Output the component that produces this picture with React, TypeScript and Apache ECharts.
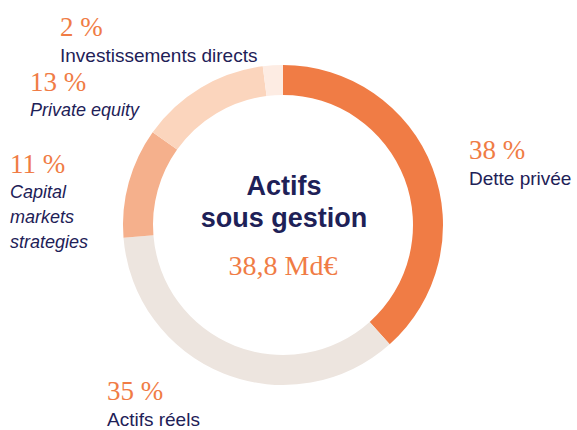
import React, { useEffect, useRef } from "react";
import * as echarts from "echarts";

const categories = ["Dette privée", "Actifs réels", "Capital markets strategies", "Private equity", "Investissements directs"];
const values = [38, 35, 11, 13, 2];
const colors = ["#F07C45", "#EDE5DF", "#F5B08C", "#FBD5BD", "#FDECE3"];
const labelLines = [["Dette privée"], ["Actifs réels"], ["Capital", "markets", "strategies"], ["Private equity"], ["Investissements directs"]];
const italic = [false, false, true, true, false];
const centerTitle = ["Actifs", "sous gestion"];
const centerValue = "38,8 Md€";

const ORANGE = "#F07C45";
const NAVY = "#1E2157";
const SERIF = "'Liberation Serif', serif";
const SANS = "'Liberation Sans', Arial, sans-serif";

// label anchor positions (x, y of percentage line) per category
const anchors: [number, number][] = [
  [469, 150],
  [107, 391],
  [10, 164],
  [30, 82],
  [60, 27],
];

export default function App() {
  const ref = useRef<HTMLDivElement>(null);
  useEffect(() => {
    const chart = echarts.init(ref.current!, undefined, { renderer: "svg" });
    const graphics: any[] = [];
    categories.forEach((c, i) => {
      const [x, y] = anchors[i];
      graphics.push({
        type: "text",
        x,
        y,
        style: {
          text: `${values[i]} %`,
          font: `normal 27px ${SERIF}`,
          fill: ORANGE,
          verticalAlign: "middle",
          align: "left",
        },
      });
      labelLines[i].forEach((line, j) => {
        graphics.push({
          type: "text",
          x,
          y: y + 28 + j * 25,
          style: {
            text: line,
            font: `${italic[i] ? "italic 18px" : "normal 19px"} ${SANS}`,
            fill: NAVY,
            verticalAlign: "middle",
            align: "left",
          },
        });
      });
    });
    centerTitle.forEach((t, j) => {
      graphics.push({
        type: "text",
        x: 284,
        y: 186 + j * 32,
        style: {
          text: t,
          font: `bold 27px ${SANS}`,
          fill: NAVY,
          verticalAlign: "middle",
          align: "center",
        },
      });
    });
    graphics.push({
      type: "text",
      x: 283,
      y: 265,
      style: {
        text: centerValue,
        font: `normal 28px ${SERIF}`,
        fill: ORANGE,
        verticalAlign: "middle",
        align: "center",
      },
    });

    chart.setOption({
      animation: false,
      backgroundColor: "#FFFFFF",
      series: [
        {
          type: "pie",
          center: [283, 225],
          radius: [130, 160],
          startAngle: 90,
          clockwise: true,
          label: { show: false },
          labelLine: { show: false },
          emphasis: { disabled: true },
          itemStyle: { borderWidth: 0 },
          data: categories.map((c, i) => ({
            name: c,
            value: values[i],
            itemStyle: { color: colors[i] },
          })),
        },
      ],
      graphic: graphics,
    });
    return () => chart.dispose();
  }, []);
  return (
    <div
      ref={ref}
      style={{ position: "fixed", left: 0, top: 0, width: 577, height: 430 }}
    />
  );
}
